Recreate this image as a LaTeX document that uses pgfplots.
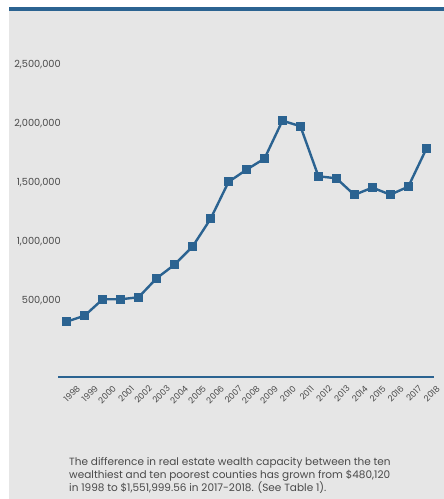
\documentclass[border=0pt]{standalone}
\usepackage{pgfplots}
\pgfplotsset{compat=1.18}
\usepackage{fontspec}
\setmainfont{Poppins}
\definecolor{bg}{HTML}{E6E6E6}
\definecolor{lineblue}{HTML}{2B6391}
\definecolor{txt}{HTML}{4A4A4A}
\begin{document}
\begin{tikzpicture}[x=1pt,y=1pt]
\useasboundingbox (0,0) rectangle (444,499);
\fill[white] (0,0) rectangle (444,499);
\fill[bg] (9,0) rectangle (444,492);
\fill[lineblue] (9,488) rectangle (444,492);
\begin{axis}[
  at={(58.5pt,122pt)}, anchor=south west,
  scale only axis, width=375.5pt, height=335.7pt,
  xmin=1997.544, xmax=2018.43,
  ymin=-150000, ymax=2700000,
  axis lines*=left,
  axis line style={-},
  x axis line style={draw=lineblue, line width=1.6pt},
  y axis line style={draw=none},
  major tick length=0pt,
  scaled y ticks=false,
  xtick={1998,1999,2000,2001,2002,2003,2004,2005,2006,2007,2008,2009,2010,2011,2012,2013,2014,2015,2016,2017,2018},
  xticklabels={1998,1999,2000,2001,2002,2003,2004,2005,2006,2007,2008,2009,2010,2011,2012,2013,2014,2015,2016,2017,2018},
  ytick={500000,1000000,1500000,2000000,2500000},
  yticklabels={{500,000},{1,000,000},{1,500,000},{2,000,000},{2,500,000}},
  xticklabel style={rotate=45, anchor=east, inner sep=0pt, xshift=1.4pt, yshift=-15.6pt, font=\fontsize{8.5}{10}\selectfont, text=txt},
  yticklabel style={anchor=east, inner sep=0pt, xshift=2.5pt, font=\fontsize{9.8}{12}\selectfont, text=txt},
  clip=false,
]
\addplot[lineblue, line width=2.4pt, mark=square*, mark size=4pt, mark options={solid, fill=lineblue, draw=lineblue, line width=0pt}] coordinates {
(1998,320000) (1999,371000) (2000,510000) (2001,510000) (2002,527000)
(2003,688000) (2004,804000) (2005,957000) (2006,1192000) (2007,1506000)
(2008,1610000) (2009,1704000) (2010,2026000) (2011,1979000) (2012,1554000)
(2013,1537000) (2014,1396000) (2015,1458000) (2016,1398000) (2017,1466000)
(2018,1786000)};
\end{axis}
\begin{scope}[every node/.style={anchor=base west, inner sep=0pt, text=txt, font=\fontsize{10.5}{13}\selectfont}]
\node at (69,33.5) {The difference in real estate wealth capacity between the ten};
\node at (69,20.5) {wealthiest and ten poorest counties has grown from \$480,120};
\node at (69,7.5) {in 1998 to \$1,551,999.56 in 2017-2018. (See Table 1).};
\end{scope}
\end{tikzpicture}
\end{document}
